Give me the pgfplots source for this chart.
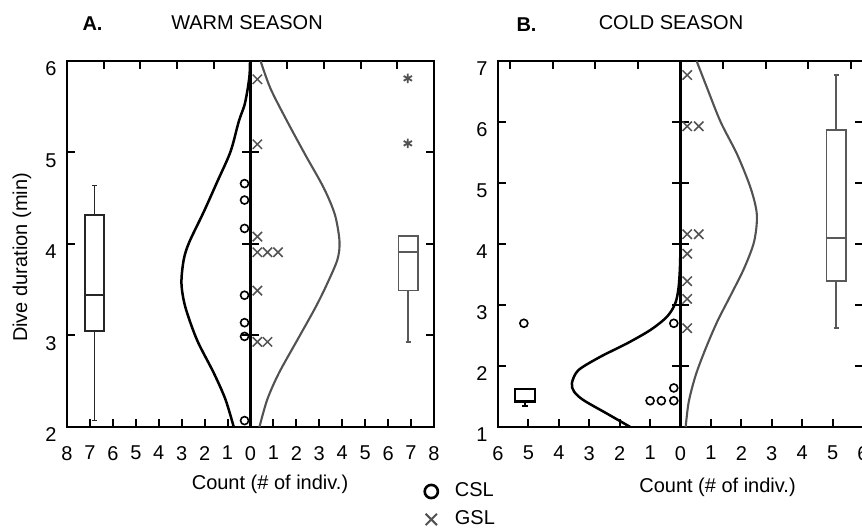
\documentclass[border=0pt]{standalone}
\usepackage{fontspec}
\setmainfont{Liberation Sans}
\usepackage{pgfplots}
\pgfplotsset{compat=1.18}
\usepgfplotslibrary{statistics}
\definecolor{gsl}{gray}{0.32}
\definecolor{gslbox}{gray}{0.35}

\pgfplotsset{
  common/.style={
    scale only axis, clip=false,
    axis line style={line width=1.25pt},
    every tick/.style={line width=1pt, black},
    major tick length=4pt,
    tick align=inside,
    xtick pos=left, ytick pos=both, yticklabel pos=left,
    /pgf/number format/assume math mode=true,
    xticklabel style={yshift=-6pt},
    yticklabel style={yshift=-4pt, xshift=-1.7pt},
  },
  legimg/.style={legend image code/.code={\draw[##1, mark size=3.3pt, line width=1.3pt] plot coordinates {(0pt,0pt)};}},
  legimgx/.style={legend image code/.code={\draw[##1, mark size=4pt, line width=1pt] plot coordinates {(0pt,0pt)};}},
}

\begin{document}
\begin{tikzpicture}
\useasboundingbox (0,0) rectangle (431pt,264pt);

% ---------------- Panel A ----------------
\begin{axis}[common,
  at={(33.5pt,50.5pt)}, anchor=south west,
  width=183.5pt, height=183pt,
  xmin=-8, xmax=8, ymin=2, ymax=6,
  xtick={-8,...,8},
  xticklabels={8,7,6,5,4,3,2,1,0,1,2,3,4,5,6,7,8},
  ytick={2,3,4,5,6},
  legend style={at={(0.9736,-0.152)}, anchor=north west, draw=none, fill=none,
    inner sep=0pt, row sep=5.5pt, nodes={inner sep=0pt},
    /tikz/every odd column/.style={column sep=8.5pt}},
  legend cell align=left,
]
% center line and ticks
\draw[line width=1.05pt] (axis cs:0,2) -- (axis cs:0,6);
\draw[line width=1pt] (axis cs:-0.35,5) -- (axis cs:0.35,5);
\draw[line width=1pt] (axis cs:-0.35,4) -- (axis cs:0.35,4);
\draw[line width=1pt] (axis cs:-0.35,3) -- (axis cs:0.35,3);
% top ticks
\draw[line width=1pt] (axis cs:-6.4,6) -- ([yshift=-4pt]axis cs:-6.4,6);
\draw[line width=1pt] (axis cs:-4.8,6) -- ([yshift=-4pt]axis cs:-4.8,6);
\draw[line width=1pt] (axis cs:-3.2,6) -- ([yshift=-4pt]axis cs:-3.2,6);
\draw[line width=1pt] (axis cs:-1.6,6) -- ([yshift=-4pt]axis cs:-1.6,6);
\draw[line width=1pt] (axis cs:1.6,6) -- ([yshift=-4pt]axis cs:1.6,6);
\draw[line width=1pt] (axis cs:3.2,6) -- ([yshift=-4pt]axis cs:3.2,6);
\draw[line width=1pt] (axis cs:4.8,6) -- ([yshift=-4pt]axis cs:4.8,6);
\draw[line width=1pt] (axis cs:6.4,6) -- ([yshift=-4pt]axis cs:6.4,6);

% CSL density (black)
\addplot[black, line width=1.25pt, smooth, forget plot] coordinates {
 (-0.02,6.0) (-0.04,5.85) (-0.12,5.70) (-0.26,5.52) (-0.51,5.34) (-0.87,5.01)
 (-1.45,4.68) (-2.04,4.35) (-2.67,4.02) (-2.91,3.83) (-3.01,3.57) (-2.84,3.31)
 (-2.33,2.95) (-1.60,2.59) (-1.09,2.30) (-0.73,2.0)};
% GSL density (grey)
\addplot[gsl, line width=1.05pt, smooth, forget plot] coordinates {
 (0.44,6.0) (0.87,5.70) (1.60,5.34) (2.40,4.97) (3.20,4.61) (3.68,4.32)
 (3.88,4.03) (3.79,3.83) (3.35,3.57) (2.84,3.31) (2.04,2.95) (1.24,2.59)
 (0.73,2.30) (0.39,2.0)};

% boxplots
\addplot[black!85, line width=0.8pt, forget plot,
  boxplot prepared={draw direction=y, draw position=-6.8, box extend=0.85, whisker extend=0.22,
  lower whisker=2.07, lower quartile=3.05, median=3.44, upper quartile=4.32, upper whisker=4.64},
  boxplot/every median/.style={line width=1.1pt}] coordinates {};
\addplot[gslbox, line width=0.8pt, forget plot,
  boxplot prepared={draw direction=y, draw position=6.87, box extend=0.85, whisker extend=0.22,
  lower whisker=2.93, lower quartile=3.49, median=3.91, upper quartile=4.09, upper whisker=4.09},
  boxplot/every whisker/.style={line width=1.1pt}] coordinates {};
\addplot[only marks, mark=asterisk, mark size=2.4pt, gsl, line width=0.9pt, forget plot] coordinates {(6.86,5.10) (6.86,5.81)};

% individual points
\addplot[only marks, mark=o, mark size=2pt, black, line width=0.8pt, legimg] coordinates {
 (-0.26,4.66) (-0.26,4.48) (-0.26,4.17) (-0.26,3.44) (-0.26,3.14) (-0.26,2.99) (-0.26,2.07)};
\addlegendentry{CSL}
\addplot[only marks, mark=x, mark size=3.3pt, gsl, line width=0.75pt, legimgx] coordinates {
 (0.30,5.80) (0.30,5.09) (0.30,4.08) (0.30,3.91) (0.74,3.91) (1.20,3.91)
 (0.30,3.49) (0.30,2.93) (0.74,2.93)};
\addlegendentry{GSL}
\end{axis}

% ---------------- Panel B ----------------
\begin{axis}[common,
  at={(249pt,50.5pt)}, anchor=south west,
  width=182.5pt, height=183pt,
  xmin=-6, xmax=6, ymin=1, ymax=7,
  xtick={-6,...,6},
  xticklabels={6,5,4,3,2,1,0,1,2,3,4,5,6},
  ytick={1,2,3,4,5,6,7},
]
\draw[line width=1.05pt] (axis cs:0,1) -- (axis cs:0,7);
\draw[line width=1pt] (axis cs:-0.27,6) -- (axis cs:0.27,6);
\draw[line width=1pt] (axis cs:-0.27,5) -- (axis cs:0.27,5);
\draw[line width=1pt] (axis cs:-0.27,4) -- (axis cs:0.27,4);
\draw[line width=1pt] (axis cs:-0.27,3) -- (axis cs:0.27,3);
\draw[line width=1pt] (axis cs:-0.27,2) -- (axis cs:0.27,2);
\draw[line width=1pt] (axis cs:-5.6,7) -- ([yshift=-4pt]axis cs:-5.6,7);
\draw[line width=1pt] (axis cs:-4.2,7) -- ([yshift=-4pt]axis cs:-4.2,7);
\draw[line width=1pt] (axis cs:-2.8,7) -- ([yshift=-4pt]axis cs:-2.8,7);
\draw[line width=1pt] (axis cs:-1.4,7) -- ([yshift=-4pt]axis cs:-1.4,7);
\draw[line width=1pt] (axis cs:1.4,7) -- ([yshift=-4pt]axis cs:1.4,7);
\draw[line width=1pt] (axis cs:2.8,7) -- ([yshift=-4pt]axis cs:2.8,7);
\draw[line width=1pt] (axis cs:4.2,7) -- ([yshift=-4pt]axis cs:4.2,7);
\draw[line width=1pt] (axis cs:5.6,7) -- ([yshift=-4pt]axis cs:5.6,7);

\addplot[black, line width=1.25pt, smooth] coordinates {
 (-1.65,1.0) (-2.42,1.22) (-3.19,1.44) (-3.50,1.58) (-3.57,1.72) (-3.36,1.93)
 (-2.64,2.15) (-1.76,2.37) (-0.99,2.59) (-0.44,2.81) (-0.17,3.03) (-0.06,3.30)
 (-0.01,3.74) (0,4.5)};
\addplot[gsl, line width=1.05pt, smooth] coordinates {
 (0.53,7.0) (0.88,6.55) (1.32,6.0) (1.87,5.46) (2.31,4.91) (2.51,4.48)
 (2.42,4.04) (2.09,3.60) (1.65,3.16) (1.21,2.73) (0.83,2.29) (0.50,1.85)
 (0.27,1.41) (0.17,1.0)};

\addplot[black, line width=0.95pt,
  boxplot prepared={draw direction=y, draw position=-5.12, box extend=0.65, whisker extend=0.18,
  lower whisker=1.35, lower quartile=1.41, median=1.43, upper quartile=1.62, upper whisker=1.62}] coordinates {};
\addplot[gslbox, line width=0.8pt,
  boxplot prepared={draw direction=y, draw position=5.12, box extend=0.65, whisker extend=0.15,
  lower whisker=2.62, lower quartile=3.39, median=4.10, upper quartile=5.87, upper whisker=6.77}] coordinates {};

\addplot[only marks, mark=o, mark size=2pt, black, line width=0.8pt] coordinates {
 (-5.15,2.70) (-0.22,2.70) (-0.22,1.64) (-1.00,1.43) (-0.63,1.43) (-0.22,1.43)};
\addplot[only marks, mark=x, mark size=3.3pt, gsl, line width=0.75pt] coordinates {
 (0.22,6.77) (0.22,5.93) (0.60,5.93) (0.22,4.16) (0.60,4.16) (0.22,3.84)
 (0.22,3.39) (0.22,3.10) (0.22,2.62)};
\end{axis}

% titles and labels
\node[anchor=base, font=\bfseries] at (46.25pt,248.5pt) {A.};
\node[anchor=base] at (123.5pt,249pt) {WARM SEASON};
\node[anchor=base, font=\bfseries] at (263.25pt,248pt) {B.};
\node[anchor=base] at (335.5pt,249pt) {COLD SEASON};
\node[rotate=90] at (11pt,135.25pt) {Dive duration (min)};
\node[anchor=base] at (135pt,19pt) {Count (\# of indiv.)};
\node[anchor=base] at (358.75pt,17.5pt) {Count (\# of indiv.)};
\end{tikzpicture}
\end{document}
